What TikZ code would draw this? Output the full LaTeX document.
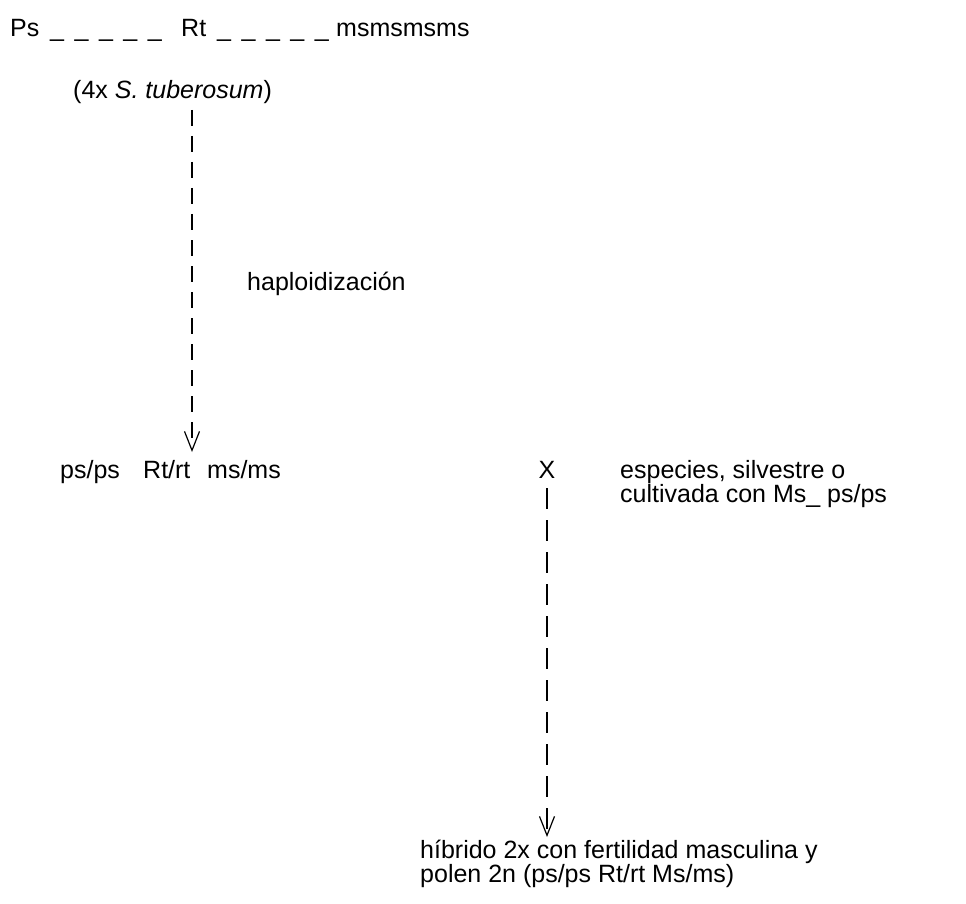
\documentclass[tikz,border=0pt]{standalone}
\usepackage{fontspec}
\setmainfont{Liberation Sans}
\usetikzlibrary{arrows.meta}
\newcommand{\guiones}{\_\hspace{10.5pt}\_\hspace{10.5pt}\_\hspace{10.5pt}\_\hspace{10.5pt}\_}
\begin{document}
\begin{tikzpicture}[x=1pt,y=-1pt,
    every node/.style={inner sep=0pt,anchor=base west,font=\fontsize{25}{24}\selectfont},
    cruce/.style={line width=1.5pt,dash pattern=on 16pt off 10pt,
      -{Straight Barb[length=19pt,width=15pt,line width=1.2pt]}},
    cruceb/.style={cruce,dash pattern=on 21pt off 11pt}]

  \useasboundingbox (0,0) rectangle (966,904);

  % genotipo de partida
  \node (ps) at (10,37) {Ps};
  \node (gapa) at (50,37) {\guiones};
  \node (rt) at (181,37) {Rt};
  \node (gapb) at (217,37) {\guiones};
  \node (msms) at (336,37) {msmsmsms};

  \node (tub) at (73,99) {(4x \textit{S. tuberosum})};
  \coordinate (tubb) at (192,110);
  \node (haplo) at (247,290) {haploidización};

  % haploide
  \node (psps) at (60,478) {ps/ps};
  \node (rtrt) at (143,478) {Rt/rt};
  \node (msms2) at (207,478) {ms/ms};
  \coordinate (haplotip) at (192,452);
  \draw[cruce] (tubb) -- (haplotip);

  % cruzamiento
  \node[anchor=base] (x) at (547,478) {X};
  \node[align=left,anchor=north west] (esp) at (620,460) {especies, silvestre o\\cultivada con Ms\_ ps/ps};
  \coordinate (hibtip) at (547,837);
  \draw[cruceb] ([yshift=-10pt]x.south) -- (hibtip);

  \node[align=left,anchor=north west] (hib) at (420,840) {híbrido 2x con fertilidad masculina y\\polen 2n (ps/ps Rt/rt Ms/ms)};
\end{tikzpicture}
\end{document}
